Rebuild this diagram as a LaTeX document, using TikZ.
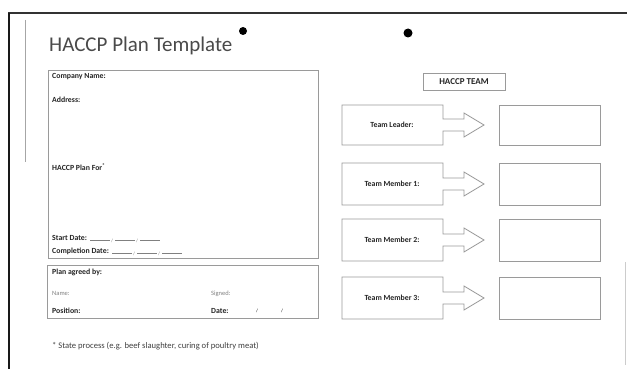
\documentclass[tikz,border=0pt]{standalone}
\usepackage{fontspec}
\setmainfont{Carlito}
\definecolor{boxgray}{HTML}{9A9A9A}
\definecolor{titlegray}{HTML}{4A4A4A}
\begin{document}
\begin{tikzpicture}[x=1pt,y=-1pt,
  frame/.style={draw=boxgray,line width=0.8pt},
  lbl/.style={inner sep=0pt,anchor=west,font=\fontsize{7.8}{8}\selectfont\bfseries,text=black!85},
  lite/.style={inner sep=0pt,anchor=west,font=\fontsize{6.5}{7}\selectfont,text=gray},
  blank/.style={draw=gray,line width=0.4pt},
  teamlbl/.style={inner sep=0pt,font=\fontsize{7.8}{8}\selectfont\bfseries,text=black!85},
  rbox/.style={frame,minimum width=101pt,minimum height=41pt,inner sep=0pt},
  dot/.style={fill=black,circle,inner sep=0pt,minimum size=8pt}]
\useasboundingbox (0,0) rectangle (627,369);
\fill[white] (0,0) rectangle (627,369);
% page frame
\draw[line width=2pt,black!80] (8,13) -- (627,13);
\draw[line width=2.5pt,black!90] (9,13) -- (9,369);
\draw[line width=0.8pt,black!35] (25,20) -- (25,162);
\draw[line width=0.8pt,black!20] (625,262) -- (625,365);
% title and dots
\node[inner sep=0pt,anchor=base west,font=\fontsize{21}{24}\selectfont,text=titlegray] (title) at (49,52) {HACCP Plan Template};
\node[dot] (dotA) at (243,31) {};
\node[dot,minimum size=9pt] (dotB) at (408,33) {};
% left box 1
\node[frame,inner sep=0pt,minimum width=270pt,minimum height=188pt,anchor=north west] (info) at (48,70) {};
\node[lbl] (cname) at (52,77) {Company Name:};
\node[lbl] (addr) at (52,100) {Address:};
\node[lbl] (planfor) at (52,167) {HACCP Plan For\textsuperscript{*}};
\node[lbl] (sdate) at (52,238) {Start Date:};
\node[lbl] (cdate) at (52,251) {Completion Date:};
\foreach \a/\r in {sdate/0,cdate/1}{
  \path (\a.east) ++(3,2) coordinate (\a s1);
  \draw[blank] (\a s1) -- ++(20,0);
  \node[inner sep=0pt,font=\fontsize{5}{6}\selectfont,text=gray] (\a sl1) at ([xshift=22pt,yshift=-1pt]\a s1) {/};
  \draw[blank] ([xshift=25pt]\a s1) -- ++(20,0);
  \node[inner sep=0pt,font=\fontsize{5}{6}\selectfont,text=gray] (\a sl2) at ([xshift=47pt,yshift=-1pt]\a s1) {/};
  \draw[blank] ([xshift=50pt]\a s1) -- ++(20,0);
}
% left box 2
\node[frame,inner sep=0pt,minimum width=271pt,minimum height=53pt,anchor=north west] (agree) at (47,265) {};
\node[lbl] (agreed) at (52,272) {Plan agreed by:};
\node[lite] (name) at (52,293) {Name:};
\node[lite] (signed) at (211,294) {Signed:};
\node[lbl] (position) at (52,311) {Position:};
\node[lbl] (date) at (211,311) {Date:};
\node[inner sep=0pt,font=\fontsize{5}{6}\selectfont] (ds1) at (257,311) {/};
\node[inner sep=0pt,font=\fontsize{5}{6}\selectfont] (ds2) at (282,311) {/};
% footnote
\node[inner sep=0pt,anchor=west,font=\fontsize{8.6}{9}\selectfont,text=black!75] (foot) at (52,346) {* State process (e.g. beef slaughter, curing of poultry meat)};
% team
\node[frame,minimum width=82pt,minimum height=17pt,inner sep=0pt,font=\fontsize{9}{10}\selectfont\bfseries,text=black!85] (team) at (464,81.5) {HACCP TEAM};
\foreach \i/\t/\b/\txt in {1/105/145/Team Leader:,2/163/205/Team Member 1:,3/219/261/Team Member 2:,4/277/319/Team Member 3:}{
  \pgfmathsetmacro{\c}{(\t+\b)/2}
  \draw[frame,line join=miter] (342,\t) -- (443,\t) -- (443,\c-6) -- (464,\c-6) -- (464,\c-12) -- (484,\c) -- (464,\c+12) -- (464,\c+6) -- (443,\c+6) -- (443,\b) -- (342,\b) -- cycle;
  \node[teamlbl] (member\i) at (392,\c) {\txt};
  \node[rbox,minimum height={\b-\t}] (slot\i) at (549.5,\c) {};
}
\end{tikzpicture}
\end{document}
